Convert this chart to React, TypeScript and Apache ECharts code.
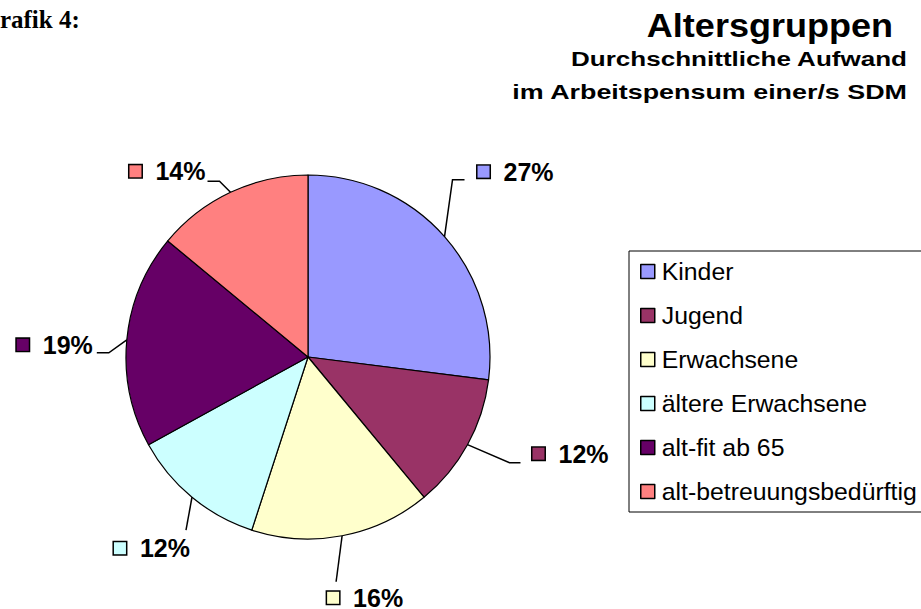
import React, { useEffect, useRef } from 'react';
import * as echarts from 'echarts';

const categories = ['Kinder', 'Jugend', 'Erwachsene', 'ältere Erwachsene', 'alt-fit ab 65', 'alt-betreuungsbedürftig'];
const shares = [27, 12, 16, 12, 19, 14];
const colors = ['#9999FF', '#993366', '#FFFFCC', '#CCFFFF', '#660066', '#FF8080'];

const headLine = 'Grafik 4:';
const titleText = 'Altersgruppen';
const subtitleLines = ['Durchschnittliche Aufwand', 'im Arbeitspensum einer/s SDM'];

// label placement, relative to the slice's outer-edge anchor point
const labelPlacement: { line: number[][]; label: number[]; align: string }[] = [
  { line: [[8, -57], [20, -57]], label: [33, -65], align: 'left' },
  { line: [[42, 18], [53, 18]], label: [65, 9], align: 'left' },
  { line: [[-6, 46], [-6, 46]], label: [-15, 62], align: 'left' },
  { line: [[-6, 33], [-6, 33]], label: [-2, 51], align: 'right' },
  { line: [[-18, 13], [-30, 13]], label: [-34, 5], align: 'right' },
  { line: [[-11, -11], [-23, -11]], label: [-25, -21], align: 'right' },
];

const SANS = "'Liberation Sans', Arial, Helvetica, sans-serif";
const CX = 308;
const CY = 357;
const R = 182;

export default function App() {
  const ref = useRef<HTMLDivElement>(null);
  useEffect(() => {
    if (!ref.current) return;
    const chart = echarts.init(ref.current, null, { renderer: 'svg' });
    const total = shares.reduce((a, b) => a + b, 0);
    const fallbackAnchor = (i: number) => {
      let before = 0;
      for (let k = 0; k < i; k++) before += shares[k];
      const mid = ((before + shares[i] / 2) / total) * Math.PI * 2;
      return [CX + R * Math.sin(mid), CY - R * Math.cos(mid)];
    };
    const rich: any = {
      v: { fontSize: 25, fontWeight: 'bold', fontFamily: SANS, color: '#000', verticalAlign: 'middle' },
      g: { width: 14 },
    };
    colors.forEach((c, i) => {
      rich['m' + i] = { width: 12, height: 12, backgroundColor: c, borderColor: '#000', borderWidth: 1.5, verticalAlign: 'middle' };
    });
    chart.setOption({
      animation: false,
      backgroundColor: '#fff',
      color: colors,
      graphic: [
        {
          type: 'text', x: -19.5, y: 19.5,
          style: { text: headLine, fontFamily: "'Liberation Serif', 'Times New Roman', serif", fontWeight: 'bold', fontSize: 25, fill: '#000', align: 'left', verticalAlign: 'middle' },
        },
        {
          type: 'text', x: 893, y: 25, scaleX: 1.06,
          style: { text: titleText, x: 0, y: 0, fontFamily: SANS, fontWeight: 'bold', fontSize: 34, fill: '#000', align: 'right', verticalAlign: 'middle' },
        },
        {
          type: 'text', x: 907, y: 59, scaleX: 1.24,
          style: { text: subtitleLines[0], x: 0, y: 0, fontFamily: SANS, fontWeight: 'bold', fontSize: 21, fill: '#000', align: 'right', verticalAlign: 'middle' },
        },
        {
          type: 'text', x: 907, y: 92, scaleX: 1.28,
          style: { text: subtitleLines[1], x: 0, y: 0, fontFamily: SANS, fontWeight: 'bold', fontSize: 21, fill: '#000', align: 'right', verticalAlign: 'middle' },
        },
      ],
      legend: {
        orient: 'vertical',
        left: 629,
        top: 251,
        padding: [8, 40, 8, 11],
        borderColor: '#000',
        borderWidth: 1,
        itemWidth: 14,
        itemHeight: 14,
        itemGap: 19,
        icon: 'rect',
        itemStyle: { borderColor: '#000', borderWidth: 1.5 },
        textStyle: { fontFamily: SANS, fontSize: 24.8, color: '#000', padding: [0, 0, 0, 2] },
        selectedMode: false,
        data: categories,
      },
      series: [
        {
          type: 'pie',
          center: [CX, CY],
          radius: R,
          startAngle: 90,
          clockwise: true,
          avoidLabelOverlap: false,
          emphasis: { disabled: true },
          itemStyle: { borderColor: '#000', borderWidth: 1.2 },
          label: {
            show: true,
            position: 'outside',
            formatter: (p: any) => `{m${p.dataIndex}|}{g|}{v|${p.value}%}`,
            rich,
          },
          labelLine: { show: true, length: 10, length2: 10, lineStyle: { color: '#000', width: 1.5 } },
          labelLayout: (params: any) => {
            const i = params.dataIndex;
            const L = labelPlacement[i];
            const a = params.labelLinePoints && params.labelLinePoints[0] ? params.labelLinePoints[0] : fallbackAnchor(i);
            return {
              x: a[0] + L.label[0],
              y: a[1] + L.label[1],
              align: L.align,
              verticalAlign: 'middle',
              labelLinePoints: [[a[0], a[1]], ...L.line.map((p) => [a[0] + p[0], a[1] + p[1]])],
            };
          },
          data: categories.map((name, i) => ({ name, value: shares[i] })),
        },
      ],
    });
    return () => chart.dispose();
  }, []);
  return <div ref={ref} style={{ position: 'fixed', left: 0, top: 0, width: 921, height: 609 }} />;
}
